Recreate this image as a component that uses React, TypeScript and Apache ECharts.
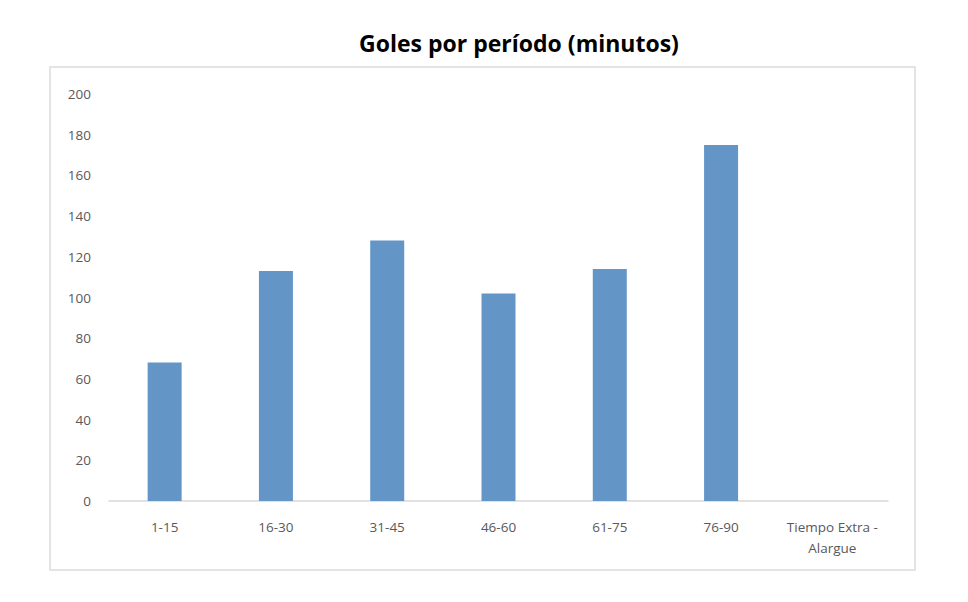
import React, { useEffect, useRef } from "react";
import * as echarts from "echarts";

const categories = ["1-15", "16-30", "31-45", "46-60", "61-75", "76-90", "Tiempo Extra -\nAlargue"];
const goals = [68, 113, 128, 102, 114, 175, 0];
const yTicks = { min: 0, max: 200, interval: 20 };
const titleText = "Goles por período (minutos)";

export default function App() {
  const ref = useRef<HTMLDivElement>(null);
  useEffect(() => {
    if (!ref.current) return;
    const chart = echarts.init(ref.current, null, { renderer: "svg" });
    chart.setOption({
      animation: false,
      backgroundColor: "#ffffff",
      title: {
        text: titleText,
        left: 514,
        top: 26,
        textAlign: "center",
        textStyle: { fontFamily: "Open Sans", fontWeight: "bold", fontSize: 23, color: "#000000" },
      },
      graphic: [
        {
          type: "rect",
          shape: { x: 50, y: 67, width: 865, height: 503 },
          style: { fill: "none", stroke: "#dcdcdc", lineWidth: 1.5 },
          silent: true,
        },
      ],
      grid: { left: 109, right: 80, top: 94, bottom: 101, containLabel: false },
      xAxis: {
        type: "category",
        data: categories,
        axisLine: { show: true, lineStyle: { color: "#d9d9d9", width: 1.5 } },
        axisTick: { show: false },
        axisLabel: {
          color: "#595959",
          fontFamily: "Open Sans",
          fontSize: 13.5,
          margin: 15,
          lineHeight: 21,
          interval: 0,
        },
      },
      yAxis: {
        type: "value",
        min: yTicks.min,
        max: yTicks.max,
        interval: yTicks.interval,
        axisLine: { show: false },
        axisTick: { show: false },
        splitLine: { show: false },
        axisLabel: { color: "#595959", fontFamily: "Open Sans", fontSize: 13.5, margin: 18 },
      },
      series: [
        {
          type: "bar",
          data: goals,
          barWidth: 34,
          itemStyle: { color: "#6395c7" },
        },
      ],
    });
    return () => chart.dispose();
  }, []);
  return <div ref={ref} style={{ position: "absolute", left: 0, top: 0, width: 968, height: 602 }} />;
}
